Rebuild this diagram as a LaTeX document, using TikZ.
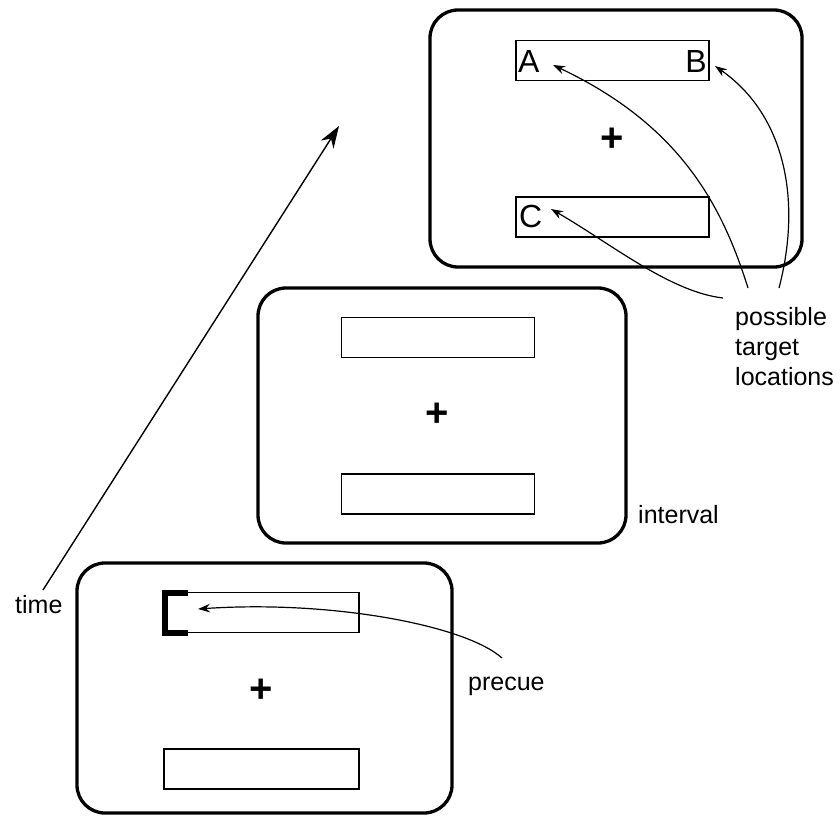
\documentclass[tikz,border=0pt]{standalone}
\usepackage{fontspec}
\setmainfont{Liberation Sans}
\usetikzlibrary{arrows.meta}
\begin{document}
\begin{tikzpicture}[x=1pt,y=-1pt,
  panel/.style={draw, line width=3.3pt, rounded corners=28pt, inner sep=0pt, outer sep=0pt},
  slot/.style={draw, line width=1.5pt, inner sep=0pt, minimum width=193pt, minimum height=40pt},
  fixation/.style={font=\fontsize{40}{40}\selectfont\bfseries, inner sep=0pt},
  lbl/.style={font=\fontsize{25}{30}\selectfont, inner sep=0pt},
  letter/.style={font=\fontsize{32}{32}\selectfont, inner sep=0pt},
  pointer/.style={line width=1.2pt, -{Stealth[length=12pt,width=8.5pt]}},
  cue/.style={line width=6pt, line cap=butt, line join=miter}]
\useasboundingbox (0,0) rectangle (840,816);

% panels
\node[panel, minimum width=372pt, minimum height=257pt] (p3) at (616,138.5) {};
\node[panel, minimum width=368pt, minimum height=255pt] (p2) at (442,415.5) {};
\node[panel, minimum width=375pt, minimum height=250pt] (p1) at (264.5,688) {};

% slots
\node[slot] (s3a) at (612.5,60.5) {};
\node[slot] (s3b) at (612.5,217) {};
\node[slot] (s2a) at (438,337.5) {};
\node[slot] (s2b) at (438,494) {};
\node[slot, minimum width=196pt] (s1a) at (261,612.5) {};
\node[slot, minimum width=195pt] (s1b) at (261.5,769) {};

% fixation crosses
\node[fixation] (f3) at (612,140) {+};
\node[fixation] (f2) at (437,415) {+};
\node[fixation] (f1) at (261,691) {+};

% letters
\node[letter, anchor=base west] (lA) at (518,72) {A};
\node[letter, anchor=base east] (lB) at (707,72) {B};
\node[letter, anchor=base west] (lC) at (519,227) {C};

% precue bracket
\draw[cue] (188,592.5) -- (165,592.5) -- (165,632.5) -- (188,632.5);

% labels
\node[lbl, anchor=base west] (time) at (15,613) {time};
\node[lbl, anchor=base west] (interval) at (638,523) {interval};
\node[lbl, anchor=base west] (precue) at (468,690) {precue};
\node[lbl, anchor=base west] (poss1) at (735,325) {possible};
\node[lbl, anchor=base west] (poss2) at (735,355) {target};
\node[lbl, anchor=base west] (poss3) at (735,385) {locations};

% time arrow
\coordinate (t0) at (43,590);
\coordinate (t1) at (339,126);
\draw[line width=1.4pt, -{Stealth[length=22pt,width=15pt]}] (t0) -- (t1);

% pointers to target locations
\coordinate (tA) at (553,65);
\coordinate (tB) at (715,66);
\coordinate (tC) at (551,209);
\coordinate (sA) at (748,288);
\coordinate (sB) at (779,288);
\coordinate (sC) at (723,298);
\draw[pointer] (sA) .. controls (722,205) and (680,125) .. (tA);
\draw[pointer] (sB) .. controls (802,200) and (785,115) .. (tB);
\draw[pointer] (sC) .. controls (670,292) and (610,243) .. (tC);

% precue pointer
\coordinate (c0) at (502,658);
\coordinate (c1) at (198,609);
\draw[pointer] (c0) .. controls (465,625) and (330,600) .. (c1);
\end{tikzpicture}
\end{document}
